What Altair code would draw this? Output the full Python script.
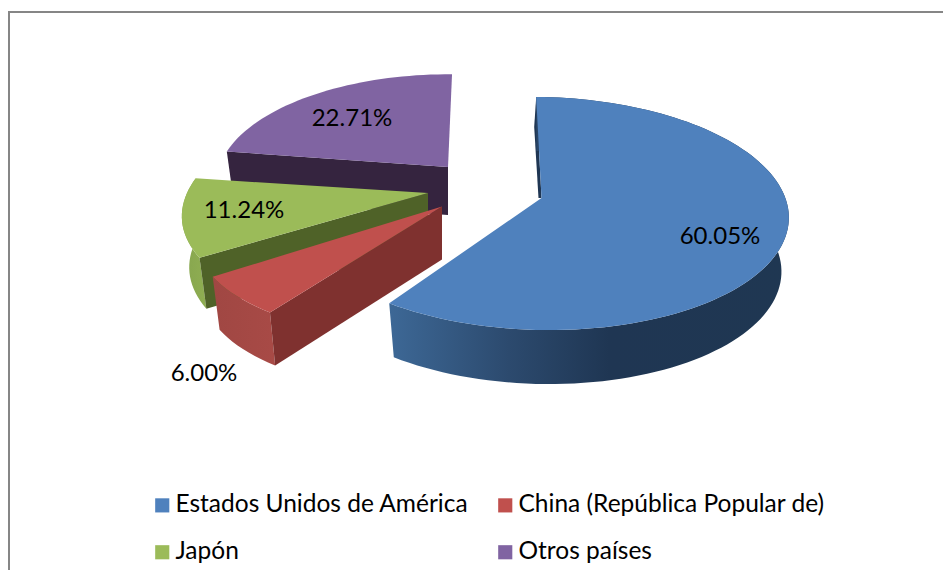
import math
import altair as alt
import pandas as pd

categories = ["Estados Unidos de América", "China (República Popular de)", "Japón", "Otros países"]
shares = [60.05, 6.00, 11.24, 22.71]
labels = ["60.05%", "6.00%", "11.24%", "22.71%"]
colors = ["#4f81bd", "#c0504d", "#9bbb59", "#8064a2"]
walls = ["#1f3653", "#7f312f", "#4f6228", "#35243f"]

W, H = 935, 562
FIRST_ANGLE = -3.0
R, A, K = 246.0, 114.5, 0.133
# Pseudo-3D layout per slice: apex, scale, shears, depth, perspective trim of the end angle
layout = [
    dict(ax=533.5, ay=190, a=1.0, s=-0.06, t=0.03, d=54, trim=-1.5),
    dict(ax=434, ay=198.5, a=0.983, s=-0.218, t=0.0, d=53, trim=0),
    dict(ax=420, ay=185, a=0.97, s=-0.25, t=0.02, d=51, trim=0),
    dict(ax=440, ay=159, a=0.92, s=-0.156, t=0.027, d=48, trim=0),
]
label_pos = [(712, 229), (196, 366), (236, 203), (344, 111)]


def rel(p, theta):
    th = math.radians(theta)
    u, v = math.sin(th), -math.cos(th)
    w = 1 - K * v
    mx, my = R * u / w, A * v / w
    x = p["a"] * (mx + p["s"] * my)
    return x, p["a"] * my + p["t"] * x


def top_pt(p, theta):
    x, y = rel(p, theta)
    return p["ax"] + x, p["ay"] + y


def low_pt(p, theta):
    x, y = rel(p, theta)
    return p["ax"] + 0.97 * x, p["ay"] + y + p["d"]


def frame(points, name=None):
    df = pd.DataFrame(points, columns=["x", "y"])
    df["i"] = range(len(df))
    if name is not None:
        df["name"] = name
    return df


X = alt.X("x:Q", scale=alt.Scale(domain=[0, W]), axis=None)
Y = alt.Y("y:Q", scale=alt.Scale(domain=[H, 0]), axis=None)


def poly(points, fill):
    return alt.Chart(frame(points)).mark_line(
        filled=True, fill=fill, strokeWidth=0
    ).encode(x=X, y=Y, order="i:Q")


# angles of each slice, from the shares
spans = []
start = FIRST_ANGLE
for idx, sh in enumerate(shares):
    end = start + sh * 3.6
    spans.append((start, end + layout[idx]["trim"]))
    start = end


def arc_thetas(a, b):
    n = max(2, int((b - a) / 2))
    return [a + (b - a) * j / n for j in range(n + 1)]


def rim_side(i):
    p = layout[i]
    th = arc_thetas(*spans[i])
    return [top_pt(p, t) for t in th] + [low_pt(p, t) for t in reversed(th)]


def cut_wall(i, theta):
    p = layout[i]
    return [(p["ax"], p["ay"]), top_pt(p, theta), low_pt(p, theta), (p["ax"], p["ay"] + p["d"])]


def top_face(i):
    p = layout[i]
    return [(p["ax"], p["ay"])] + [top_pt(p, t) for t in arc_thetas(*spans[i])]


def grad(stops):
    return alt.Gradient(
        gradient="linear", x1=0, x2=1, y1=0, y2=0,
        stops=[alt.GradientStop(offset=o, color=c) for o, c in stops],
    )


layers = []
# frame of the chart
layers.append(
    alt.Chart(frame([(1, H), (1, 4), (W, 4)])).mark_line(color="#868686", strokeWidth=2).encode(x=X, y=Y, order="i:Q")
)
# purple
layers.append(poly(cut_wall(3, spans[3][0]), walls[3]))
# green
layers.append(poly(rim_side(2), grad([(0, "#86a54e"), (1, "#8fae52")])))
layers.append(poly(cut_wall(2, spans[2][0]), walls[2]))
# red
layers.append(poly(rim_side(1), grad([(0, "#a04743"), (1, "#a84a46")])))
layers.append(poly(cut_wall(1, spans[1][0]), walls[1]))
# blue
b = layout[0]
bt = top_pt(b, spans[0][0])
layers.append(poly([bt, (b["ax"], b["ay"]), (b["ax"] - 3, b["ay"]), (bt[0] - 2, bt[1] + 30)], walls[0]))
layers.append(poly(rim_side(0), grad([(0, "#3d6896"), (0.3, "#2c4a6e"), (0.55, "#1f3653"), (1, "#1f3752")])))

# top faces, which also carry the legend
tops = pd.concat([frame(top_face(i), categories[i]) for i in range(4)])
layers.append(
    alt.Chart(tops).mark_line(filled=True, strokeWidth=0).encode(
        x=X, y=Y, order="i:Q",
        color=alt.Color(
            "name:N",
            scale=alt.Scale(domain=categories, range=colors),
            sort=categories,
            legend=alt.Legend(
                title=None, orient="none", legendX=142, legendY=485, columns=2,
                direction="horizontal",
                symbolType="square", symbolSize=200, symbolStrokeWidth=0,
                labelFont="Lato", labelFontSize=24.5, labelColor="#000000", labelLimit=400,
                labelOffset=1, columnPadding=24, rowPadding=22, padding=0,
            ),
        ),
    )
)

# data labels
lab = pd.DataFrame({"label": labels, "x": [q[0] for q in label_pos], "y": [q[1] for q in label_pos]})
layers.append(
    alt.Chart(lab).mark_text(font="Lato", fontSize=24, color="#000000", align="center", baseline="middle").encode(
        x=X, y=Y, text="label:N"
    )
)

chart = alt.layer(*layers).properties(
    width=W, height=H, padding=0, background="#ffffff",
    autosize=alt.AutoSizeParams(type="none"),
).configure_view(stroke=None)

chart.save("out.html", embed_options={"renderer": "svg", "actions": False})
